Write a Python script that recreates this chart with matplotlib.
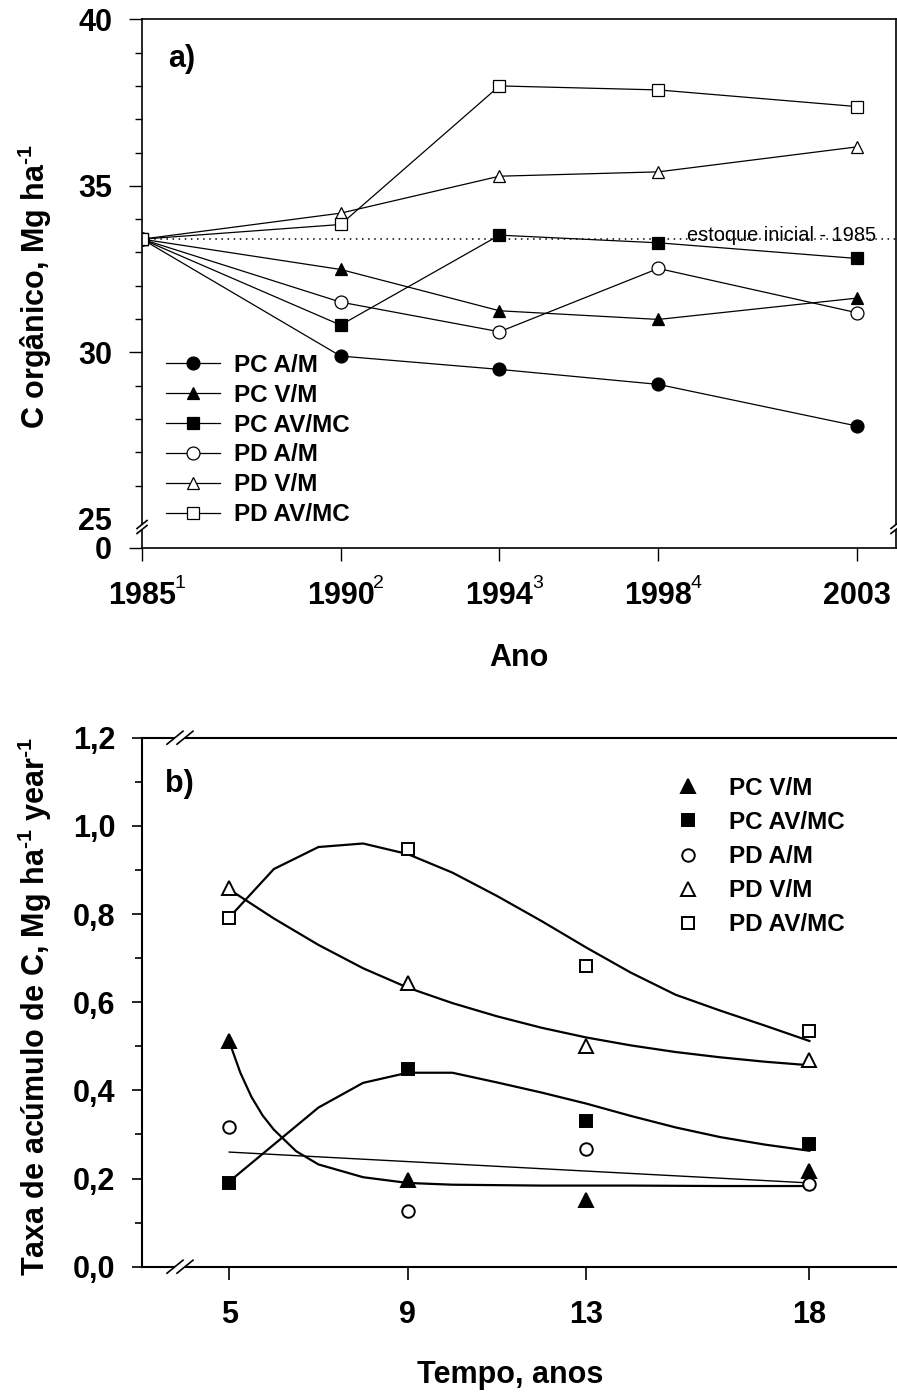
import numpy as np
import matplotlib.pyplot as plt
from matplotlib.ticker import FixedLocator, FuncFormatter

plt.rcParams['font.family'] = ['Liberation Sans', 'DejaVu Sans']
plt.rcParams['font.weight'] = 'bold'
plt.rcParams['mathtext.fontset'] = 'custom'
plt.rcParams['mathtext.rm'] = 'Liberation Sans:bold'
plt.rcParams['mathtext.it'] = 'Liberation Sans:bold'
plt.rcParams['mathtext.bf'] = 'Liberation Sans:bold'

# ---- panel a) soil organic C stock
anos = [1985, 1990, 1994, 1998, 2003]
ano_sup = ['1', '2', '3', '4', '']
pc_am = [33.4, 29.89, 29.49, 29.04, 27.79]
pc_vm = [33.4, 32.49, 31.25, 30.99, 31.63]
pc_avmc = [33.4, 30.82, 33.52, 33.29, 32.82]
pd_am = [33.4, 31.51, 30.62, 32.52, 31.19]
pd_vm = [33.4, 34.18, 35.29, 35.42, 36.17]
pd_avmc = [33.4, 33.84, 38.0, 37.88, 37.38]
estoque_inicial = 33.4

# ---- panel b) C accumulation rate
tempo = [5, 9, 13, 18]
taxa_pc_vm = [0.511, 0.197, 0.152, 0.216]
taxa_pc_avmc = [0.19, 0.449, 0.33, 0.279]
taxa_pd_am = [0.317, 0.127, 0.268, 0.188]
taxa_pd_vm = [0.86, 0.644, 0.50, 0.47]
taxa_pd_avmc = [0.792, 0.947, 0.682, 0.534]

# fitted curves
t_fit = [5, 6, 7, 8, 9, 10, 11, 12, 13, 14, 15, 16, 17, 18]
fit_pd_avmc = [0.792, 0.902, 0.952, 0.960, 0.936, 0.894, 0.841, 0.784,
               0.724, 0.667, 0.617, 0.581, 0.547, 0.512]
fit_pd_vm = [0.856, 0.790, 0.730, 0.677, 0.633, 0.598, 0.568, 0.542,
             0.520, 0.502, 0.487, 0.475, 0.465, 0.457]
fit_pc_avmc = [0.193, 0.277, 0.361, 0.417, 0.440, 0.440, 0.418, 0.395,
               0.370, 0.342, 0.316, 0.294, 0.277, 0.263]
t_fit_pc_vm = [5, 5.25, 5.5, 5.75, 6, 6.5, 7, 8, 9, 10, 12, 14, 16, 18]
fit_pc_vm = [0.511, 0.440, 0.385, 0.343, 0.311, 0.262, 0.232, 0.203,
             0.190, 0.186, 0.184, 0.184, 0.183, 0.183]
t_fit_pd_am = [5, 18]
fit_pd_am = [0.26, 0.19]

W, H = 897, 1392
fig = plt.figure(figsize=(W / 100, H / 100), dpi=100)

TICK_FS = 22
LEG_FS = 17.5


def y_fwd(y):
    y = np.asarray(y, dtype=float)
    return np.where(y >= 25, y, 25 - (25 - y) * 0.8717 / 25)


def y_inv(v):
    v = np.asarray(v, dtype=float)
    return np.where(v >= 25, v, 25 - (25 - v) * 25 / 0.8717)


def break_marks(ax, xf, yf, centers, half, gap):
    # short "//" marks on a spine, sizes given in pixels
    bb = ax.get_position()
    aw, ah = bb.width * W, bb.height * H
    (gx0, gy0), (gx1, gy1) = gap
    ax.plot([xf + gx0 / aw, xf + gx1 / aw], [yf + gy0 / ah, yf + gy1 / ah],
            color='white', lw=3, transform=ax.transAxes, clip_on=False,
            zorder=10, solid_capstyle='butt')
    for cx, cy in centers:
        ax.plot([xf + (cx - half[0]) / aw, xf + (cx + half[0]) / aw],
                [yf + (cy - half[1]) / ah, yf + (cy + half[1]) / ah],
                color='black', lw=1.2, transform=ax.transAxes,
                clip_on=False, zorder=11)


# ================= panel a =================
ax1 = fig.add_axes([142 / W, 1 - 548 / H, 754 / W, 528.7 / H])
ax1.set_yscale('function', functions=(y_fwd, y_inv))
ax1.set_ylim(0, 40)
ax1.set_xlim(1985, 1985 + 754 / 39.72)

line_kw = dict(color='black', lw=0.9, ms=9.3, mew=0.9, mec='black')
ax1.plot(anos, pc_am, marker='o', mfc='black', label='PC A/M', **line_kw)
ax1.plot(anos, pc_vm, marker='^', mfc='black', label='PC V/M', **line_kw)
ax1.plot(anos, pc_avmc, marker='s', mfc='black', label='PC AV/MC', **line_kw)
ax1.plot(anos, pd_am, marker='o', mfc='white', label='PD A/M', **line_kw)
ax1.plot(anos, pd_vm, marker='^', mfc='white', label='PD V/M', **line_kw)
ax1.plot(anos, pd_avmc, marker='s', mfc='white', label='PD AV/MC', **line_kw)

ax1.axhline(estoque_inicial, xmin=0, xmax=1, color='black', lw=1.1,
            linestyle=(0, (1, 3)), zorder=0)
ax1.text(1998.72, 33.35, 'estoque inicial - 1985', fontsize=14.4,
         fontweight='normal', ha='left', va='baseline')

ax1.yaxis.set_major_locator(FixedLocator([0, 25, 30, 35, 40]))
ax1.yaxis.set_minor_locator(FixedLocator([26, 27, 28, 29, 31, 32, 33, 34,
                                          36, 37, 38, 39]))
ax1.yaxis.set_major_formatter(FuncFormatter(lambda v, p: f'{v:.0f}'))
ax1.yaxis.set_minor_formatter(FuncFormatter(lambda v, p: ''))
ax1.set_xticks(anos)
ax1.set_xticklabels([str(a) for a in anos])
ax1.tick_params(axis='y', which='major', direction='out', length=9.5,
                width=1, labelsize=TICK_FS, pad=12)
ax1.tick_params(axis='y', which='minor', direction='out', length=5, width=1)
ax1.tick_params(axis='x', which='major', direction='out', length=9,
                width=1, labelsize=TICK_FS, pad=15)
ax1.yaxis.get_major_ticks()[1].tick1line.set_visible(False)
for s in ax1.spines.values():
    s.set_linewidth(1.2)

for a, sup in zip(anos, ano_sup):
    if sup:
        ax1.annotate(sup, xy=(a, 0), xycoords=('data', 'axes fraction'),
                     xytext=(38, -35), textcoords='offset pixels',
                     fontsize=14, fontweight='normal', ha='center',
                     va='center')

ax1.legend(loc='upper left', bbox_to_anchor=(24 / 754, 194 / 528.7),
           frameon=False, fontsize=LEG_FS, handlelength=2.22,
           handletextpad=0.58, labelspacing=0.28, borderpad=0,
           borderaxespad=0)

ax1.text((168 - 142) / 754, 1 - 40 / 528.7, 'a)', transform=ax1.transAxes,
         fontsize=22, ha='left', va='center')

yb = 21 / 528.7
for xf in (0, 1):
    break_marks(ax1, xf, yb, [(0, -2.5), (0, 2.5)], (5, 4),
                ((0, -2.5), (0, 2.5)))

fig.text(519 / W, 1 - 658 / H, 'Ano', fontsize=22, ha='center', va='center')
fig.text(35 / W, 1 - 286 / H, r'C orgânico, Mg ha$^{\text{-}1}$',
         fontsize=22, rotation=90, ha='center', va='center')

# ================= panel b =================
ax2 = fig.add_axes([142 / W, 1 - 1266.7 / H, 755 / W, 529 / H])
ax2.set_xlim(5 - 87.3 / 44.7, 18 + 87.7 / 44.7)
ax2.set_ylim(0, 1.2)

fit_kw = dict(color='black', lw=1.6, zorder=2)
ax2.plot(t_fit, fit_pd_avmc, **fit_kw)
ax2.plot(t_fit, fit_pd_vm, **fit_kw)
ax2.plot(t_fit, fit_pc_avmc, **fit_kw)
ax2.plot(t_fit_pc_vm, fit_pc_vm, **fit_kw)
ax2.plot(t_fit_pd_am, fit_pd_am, color='black', lw=1.0, zorder=2)

pt_kw = dict(linestyle='none', mec='black', mew=1.4, zorder=3)
ax2.plot(tempo, taxa_pc_vm, marker='^', ms=9.5, mfc='black', label='PC V/M',
         **pt_kw)
ax2.plot(tempo, taxa_pc_avmc, marker='s', ms=8.6, mfc='black',
         label='PC AV/MC', **pt_kw)
ax2.plot(tempo, taxa_pd_am, marker='o', ms=9, mfc='white', label='PD A/M',
         **pt_kw)
ax2.plot(tempo, taxa_pd_vm, marker='^', ms=9.5, mfc='white', label='PD V/M',
         **pt_kw)
ax2.plot(tempo, taxa_pd_avmc, marker='s', ms=8.6, mfc='white',
         label='PD AV/MC', **pt_kw)

ax2.set_xticks(tempo)
ax2.set_yticks([0, 0.2, 0.4, 0.6, 0.8, 1.0, 1.2])
ax2.yaxis.set_minor_locator(FixedLocator([0.1, 0.3, 0.5, 0.7, 0.9, 1.1]))
ax2.yaxis.set_major_formatter(
    FuncFormatter(lambda v, p: f'{v:.1f}'.replace('.', ',')))
ax2.tick_params(axis='y', which='major', direction='out', length=7,
                width=1.2, labelsize=TICK_FS, pad=12)
ax2.tick_params(axis='y', which='minor', direction='out', length=5,
                width=1.2)
ax2.tick_params(axis='x', which='major', direction='out', length=9,
                width=1.2, labelsize=TICK_FS, pad=15)
ax2.spines['right'].set_visible(False)
for s in ['left', 'top', 'bottom']:
    ax2.spines[s].set_linewidth(1.5)

ax2.legend(loc='upper left', bbox_to_anchor=(534 / 755, 490 / 529),
           frameon=False, fontsize=LEG_FS, handlelength=1.0,
           handletextpad=1.2, labelspacing=0.46, borderpad=0,
           borderaxespad=0)

ax2.text((165 - 142) / 755, 1 - 46 / 529, 'b)', transform=ax2.transAxes,
         fontsize=22, ha='left', va='center')

xb = 38 / 755
for yf in (0, 1):
    break_marks(ax2, xb, yf, [(-5, 0), (5, 0)], (8, 6.5), ((-5, 0), (5, 0)))

fig.text(510 / W, 1 - 1375 / H, 'Tempo, anos', fontsize=22, ha='center',
         va='center')
fig.text(35 / W, 1 - 1006 / H,
         r'Taxa de acúmulo de C, Mg ha$^{\text{-}1}$ year$^{\text{-}1}$',
         fontsize=22, rotation=90, ha='center', va='center')

fig.savefig('out.png', dpi=100)
